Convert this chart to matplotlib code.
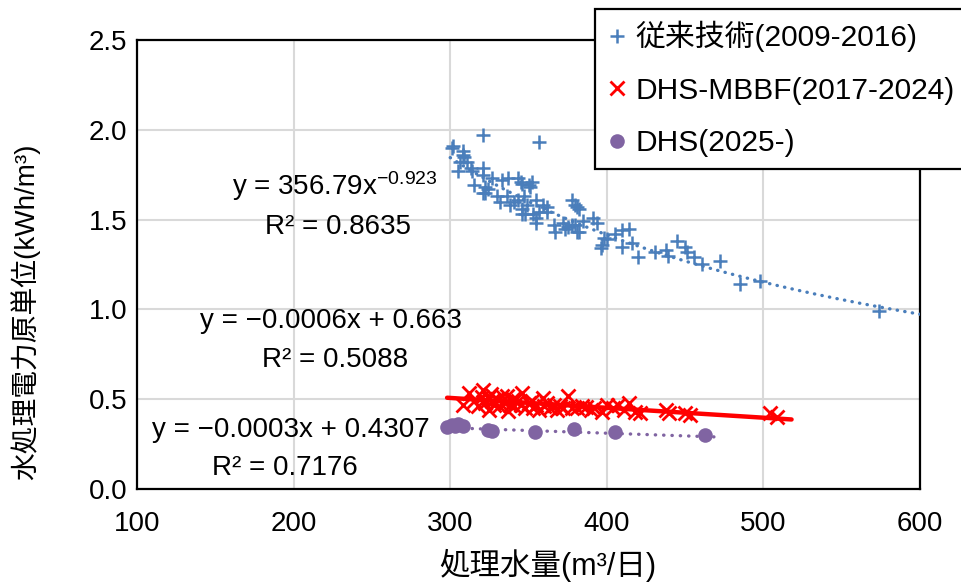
import matplotlib
matplotlib.use("Agg")
import matplotlib.pyplot as plt
import numpy as np

# --- data ---
blue_x = [301, 321, 357, 302, 308, 308, 309, 306, 311, 305,
          313, 314, 321, 321, 327, 333, 337, 315, 322, 321,
          324, 322, 343, 345, 346, 350, 352, 351, 330, 336,
          332, 338, 343, 347, 349, 346, 355, 359, 362, 357,
          353, 362, 341, 346, 348, 355, 355, 366, 367, 372,
          375, 380, 381, 378, 380, 381, 382, 373, 378, 382,
          385, 391, 394, 398, 397, 396, 400, 405, 410, 414,
          410, 416, 420, 431, 438, 439, 445, 450, 451, 456,
          461, 472, 485, 498, 574]
blue_y = [1.90, 1.97, 1.93, 1.91, 1.88, 1.86, 1.85, 1.82, 1.82, 1.77,
          1.79, 1.77, 1.79, 1.75, 1.73, 1.72, 1.73, 1.69, 1.68, 1.65,
          1.67, 1.65, 1.73, 1.71, 1.70, 1.69, 1.71, 1.68, 1.63, 1.63,
          1.60, 1.58, 1.61, 1.63, 1.58, 1.56, 1.61, 1.58, 1.57, 1.54,
          1.53, 1.54, 1.60, 1.53, 1.53, 1.51, 1.48, 1.47, 1.43, 1.48,
          1.46, 1.47, 1.43, 1.61, 1.58, 1.57, 1.56, 1.45, 1.47, 1.43,
          1.49, 1.51, 1.48, 1.40, 1.36, 1.34, 1.39, 1.42, 1.44, 1.45,
          1.35, 1.37, 1.29, 1.32, 1.33, 1.30, 1.38, 1.35, 1.32, 1.29,
          1.25, 1.27, 1.14, 1.16, 0.99]

red_x = [308, 312, 315, 318, 320, 321, 322, 324, 325, 326,
         327, 328, 330, 331, 333, 335, 336, 337, 338, 340,
         341, 343, 345, 346, 348, 350, 352, 353, 355, 357,
         359, 360, 362, 364, 366, 368, 370, 372, 375, 378,
         381, 384, 387, 390, 392, 397, 400, 404, 407, 411,
         414, 418, 421, 438, 440, 450, 453, 504, 509]
red_y = [0.47, 0.535, 0.49, 0.46, 0.51, 0.552, 0.48, 0.507, 0.44, 0.53,
         0.49, 0.47, 0.50, 0.46, 0.52, 0.48, 0.518, 0.435, 0.47, 0.50,
         0.46, 0.49, 0.47, 0.535, 0.45, 0.48, 0.49, 0.45, 0.47, 0.44,
         0.507, 0.46, 0.48, 0.45, 0.468, 0.44, 0.46, 0.45, 0.518, 0.45,
         0.45, 0.46, 0.457, 0.44, 0.45, 0.43, 0.468, 0.45, 0.468, 0.44,
         0.479, 0.43, 0.424, 0.44, 0.424, 0.424, 0.41, 0.424, 0.40]

purple_x = [298, 301, 303, 305, 308, 324, 327, 354, 379, 405, 463]
purple_y = [0.345, 0.355, 0.35, 0.36, 0.35, 0.33, 0.325, 0.318, 0.334, 0.318, 0.30]

# trendlines (coefficients, x range)
blue_fit = (356.79, -0.923)      # y = a * x**b
blue_fit_range = (300, 600)
red_fit = (-0.00055, 0.672)      # y = m*x + c
red_fit_range = (298, 518)
purple_fit = (-0.0003, 0.4307)
purple_fit_range = (298, 470)

labels = ["従来技術(2009-2016)", "DHS-MBBF(2017-2024)", "DHS(2025-)"]
x_ticks = [100, 200, 300, 400, 500, 600]
y_ticks = [0.0, 0.5, 1.0, 1.5, 2.0, 2.5]

BLUE = "#4a7ebb"
RED = "#ff0000"
PURPLE = "#8064a2"

plt.rcParams["font.family"] = ["Liberation Sans", "Noto Sans CJK JP"]
plt.rcParams["mathtext.fontset"] = "custom"
plt.rcParams["mathtext.rm"] = "Liberation Sans"
plt.rcParams["mathtext.default"] = "rm"

fig = plt.figure(figsize=(9.61, 5.82), dpi=100)
ax = fig.add_axes([0.1426, 0.1598, 0.8147, 0.7715])

ax.plot(blue_x, blue_y, linestyle="none", marker="+", markersize=10.5,
        markeredgewidth=1.8, color=BLUE, label=labels[0], zorder=3)
ax.plot(red_x, red_y, linestyle="none", marker="x", markersize=9.5,
        markeredgewidth=2.0, color=RED, label=labels[1], zorder=3)
ax.plot(purple_x, purple_y, linestyle="none", marker="o", markersize=10.5,
        markeredgewidth=0, color=PURPLE, label=labels[2], zorder=3)

xb = np.linspace(*blue_fit_range, 200)
ax.plot(xb, blue_fit[0] * xb ** blue_fit[1], color=BLUE, lw=2.4,
        linestyle=(0, (0.1, 2.2)), dash_capstyle="round", zorder=4)
xr = np.array(red_fit_range, dtype=float)
ax.plot(xr, red_fit[0] * xr + red_fit[1], color=RED, lw=3.2,
        solid_capstyle="round", zorder=4)
xp = np.array(purple_fit_range, dtype=float)
ax.plot(xp, purple_fit[0] * xp + purple_fit[1], color=PURPLE, lw=2.4,
        linestyle=(0, (0.1, 2.4)), dash_capstyle="round", zorder=4)

# trendline equations
fs_eq = 20
ax.text(160.7, 1.689, "y = 356.79x$^{\u22120.923}$", fontsize=fs_eq, ha="left", va="center")
ax.text(181.7, 1.460, "R² = 0.8635", fontsize=fs_eq, ha="left", va="center")
ax.text(140.2, 0.936, "y = \u22120.0006x + 0.663", fontsize=fs_eq, ha="left", va="center")
ax.text(179.8, 0.719, "R² = 0.5088", fontsize=fs_eq, ha="left", va="center")
ax.text(109.6, 0.329, "y = \u22120.0003x + 0.4307", fontsize=fs_eq, ha="left", va="center")
ax.text(147.9, 0.117, "R² = 0.7176", fontsize=fs_eq, ha="left", va="center")

ax.set_xlim(100, 600)
ax.set_ylim(0, 2.5)
ax.set_xticks(x_ticks)
ax.set_yticks(y_ticks)
ax.set_yticklabels([f"{v:.1f}" for v in y_ticks])
ax.tick_params(axis="both", length=0, labelsize=20)
ax.tick_params(axis="x", pad=16)
ax.tick_params(axis="y", pad=7)
ax.grid(True, color="#d9d9d9", lw=1.5, zorder=0)
ax.set_axisbelow(True)
for s in ax.spines.values():
    s.set_color("black")
    s.set_linewidth(1.6)

ax.set_xlabel("処理水量(m³/日)", fontsize=22, va="center")
ax.xaxis.set_label_coords(0.525, -0.170)
ax.set_ylabel("水処理電力原単位(kWh/m³)", fontsize=20, va="center")
ax.yaxis.set_label_coords(-0.143, 0.394)

leg = fig.legend(loc="upper left", bbox_to_anchor=(0.619, 0.985),
                 bbox_transform=fig.transFigure, fontsize=21.5, frameon=True,
                 fancybox=False, edgecolor="black", framealpha=1,
                 handlelength=0.7, handletextpad=0.25, labelspacing=0.82,
                 borderpad=0.4, borderaxespad=0)
leg.get_frame().set_linewidth(1.6)

fig.savefig("out.png", dpi=100)
